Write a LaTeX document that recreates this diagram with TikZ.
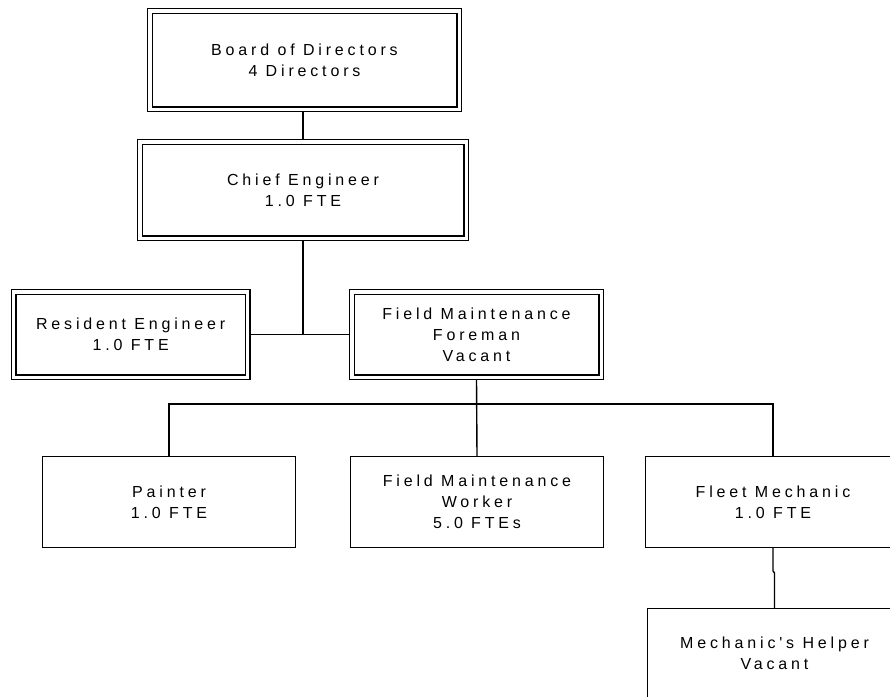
\documentclass[tikz,border=0pt]{standalone}
\usepackage{fontspec}
\setmainfont{Liberation Sans}[LetterSpace=24, Ligatures=TeXReset]
\usetikzlibrary{calc}

\tikzset{
  boxtext/.style={font=\fontsize{16}{21}\selectfont, align=center, inner sep=0pt},
  doublebox/.style={boxtext, draw, double, line width=1.3pt, double distance=3.2pt,
    outer sep=2.9pt, minimum width=#1},
  singlebox/.style={boxtext, draw, line width=1.3pt, outer sep=0.65pt, minimum width=#1},
  link/.style={line width=1.4pt}
}

\begin{document}
\begin{tikzpicture}[x=1pt, y=-1pt]
  \useasboundingbox (0,0) rectangle (890,696);
  \clip (0,0) rectangle (890,696);

  % governing level
  \node[doublebox=309.2pt, minimum height=98.2pt] (board) at (304.5,60)
    {Board of Directors\\4 Directors};
  \node[doublebox=326.2pt, minimum height=96.2pt] (chief) at (303,190)
    {Chief Engineer\\1.0 FTE};

  % second level
  \node[doublebox=234.2pt, minimum height=85.2pt] (resident) at (130.7,334.5)
    {Resident Engineer\\1.0 FTE};
  \node[doublebox=249.2pt, minimum height=85.2pt] (foreman) at (476.5,334.5)
    {Field Maintenance\\Foreman\\Vacant};

  % field staff
  \node[singlebox=252.7pt, minimum height=90.7pt] (painter) at (169,502)
    {Painter\\1.0 FTE};
  \node[singlebox=252.7pt, minimum height=90.7pt] (worker) at (477,502)
    {Field Maintenance\\Worker\\5.0 FTEs};
  \node[singlebox=254.7pt, minimum height=90.7pt] (fleet) at (773,502)
    {Fleet Mechanic\\1.0 FTE};
  \node[singlebox=253.7pt, minimum height=88.7pt] (helper) at (774.5,653)
    {Mechanic's Helper\\Vacant};

  % reporting lines
  \draw[link] (chief.north |- board.south) -- (chief.north);
  \draw[link] (chief.south) -- (chief.south |- resident.east);
  \draw[link] (resident.east) -- (foreman.west);
  \draw[link] (foreman.south) -- (worker.north);
  \draw[link] (painter.north) -- ++(0,-52) -| (fleet.north);
  \draw[link] (fleet.south) -- ++(0,23) -- ++(1.5,2) -- (helper.north);
\end{tikzpicture}
\end{document}
